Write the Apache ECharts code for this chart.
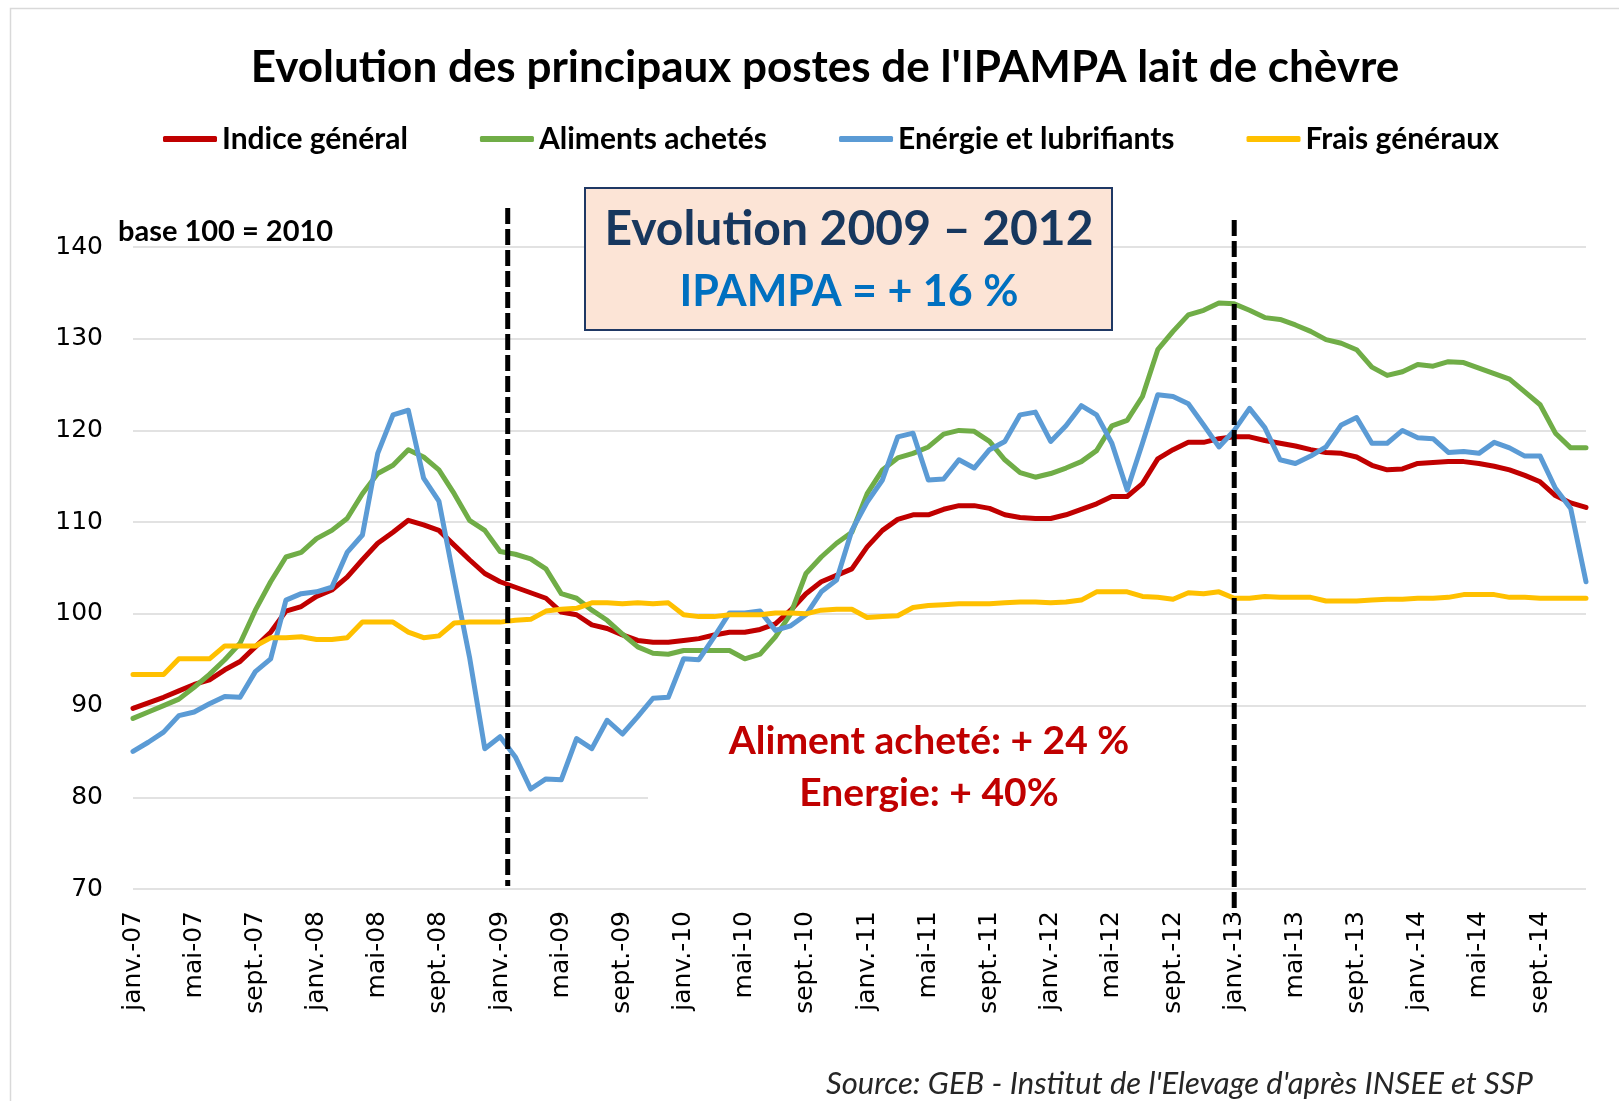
<!DOCTYPE html>
<html>
<head>
<meta charset="utf-8">
<script src="https://cdn.jsdelivr.net/npm/echarts@6/dist/echarts.min.js"></script>
<style>
  html, body { margin: 0; padding: 0; background: #fff; }
  #main { width: 1619px; height: 1101px; }
</style>
</head>
<body>
<div id="main"></div>
<script>
// mois janv.-07 .. déc.-14
const monthNames = ["janv.", "févr.", "mars", "avr.", "mai", "juin", "juil.", "août", "sept.", "oct.", "nov.", "déc."];
const years = ["07", "08", "09", "10", "11", "12", "13", "14"];
const months = [];
years.forEach(function (y) {
  monthNames.forEach(function (m) {
    months.push(m + "-" + y);
  });
});

const indiceGeneral = [
  89.7, 90.3, 90.9, 91.6, 92.3, 92.8, 93.9, 94.8, 96.4, 98.0, 100.3, 100.8, 101.9, 102.6, 104.0, 105.9, 107.7, 108.9, 110.2, 109.7, 109.1, 107.5, 105.9, 104.4, 103.5, 102.9,
  102.3, 101.7, 100.2, 99.9, 98.8, 98.4, 97.7, 97.1, 96.9, 96.9, 97.1, 97.3, 97.7, 98.0, 98.0, 98.3, 98.9, 100.4, 102.2, 103.5, 104.2, 104.9, 107.3, 109.1, 110.3,
  110.8, 110.8, 111.4, 111.8, 111.8, 111.5, 110.8, 110.5, 110.4, 110.4, 110.8, 111.4, 112.0, 112.8, 112.8, 114.2, 116.9, 117.9, 118.7, 118.7, 119.1, 119.3, 119.3, 118.9,
  118.6, 118.3, 117.9, 117.6, 117.5, 117.1, 116.2, 115.7, 115.8, 116.4, 116.5, 116.6, 116.6, 116.4, 116.1, 115.7, 115.1, 114.4, 112.9, 112.1, 111.6
];
const alimentsAchetes = [
  88.6, 89.3, 90.0, 90.7, 92.0, 93.4, 95.0, 96.8, 100.4, 103.5, 106.2, 106.7, 108.2, 109.1, 110.4, 113.1, 115.3, 116.2, 117.9, 117.1, 115.7, 113.1, 110.2, 109.1, 106.8, 106.5,
  106.0, 104.9, 102.2, 101.7, 100.4, 99.3, 97.8, 96.4, 95.7, 95.6, 96.0, 96.0, 96.0, 96.0, 95.1, 95.6, 97.5, 100.0, 104.4, 106.2, 107.7, 108.9, 113.1, 115.7, 117.0,
  117.5, 118.2, 119.6, 120.0, 119.9, 118.8, 116.8, 115.4, 114.9, 115.3, 115.9, 116.6, 117.8, 120.5, 121.1, 123.7, 128.8, 130.8, 132.6, 133.1, 133.9, 133.8, 133.1, 132.3,
  132.1, 131.5, 130.8, 129.9, 129.5, 128.8, 126.9, 126.0, 126.4, 127.2, 127.0, 127.5, 127.4, 126.8, 126.2, 125.6, 124.2, 122.8, 119.7, 118.1, 118.1
];
const energie = [
  85.0, 86.0, 87.1, 88.9, 89.3, 90.2, 91.0, 90.9, 93.7, 95.1, 101.5, 102.2, 102.4, 102.9, 106.7, 108.6, 117.5, 121.7, 122.2, 114.8, 112.3, 103.7, 95.3, 85.3, 86.6, 84.4,
  80.9, 82.0, 81.9, 86.4, 85.3, 88.4, 86.9, 88.8, 90.8, 90.9, 95.1, 95.0, 97.5, 100.1, 100.1, 100.3, 98.2, 98.7, 99.9, 102.4, 103.7, 109.1, 112.2, 114.6, 119.3,
  119.7, 114.6, 114.7, 116.8, 115.9, 117.9, 118.8, 121.7, 122.0, 118.8, 120.5, 122.7, 121.7, 118.6, 113.5, 118.6, 123.9, 123.7, 122.9, 120.6, 118.2, 120.0, 122.4, 120.3,
  116.8, 116.4, 117.2, 118.2, 120.6, 121.4, 118.6, 118.6, 120.0, 119.2, 119.1, 117.6, 117.7, 117.5, 118.7, 118.1, 117.2, 117.2, 113.7, 111.5, 103.5
];
const fraisGeneraux = [
  93.4, 93.4, 93.4, 95.1, 95.1, 95.1, 96.5, 96.5, 96.5, 97.4, 97.4, 97.5, 97.2, 97.2, 97.4, 99.1, 99.1, 99.1, 98.0, 97.4, 97.6, 99.0, 99.1, 99.1, 99.1, 99.3,
  99.4, 100.3, 100.5, 100.6, 101.2, 101.2, 101.1, 101.2, 101.1, 101.2, 99.9, 99.7, 99.7, 99.9, 99.9, 99.9, 100.1, 100.1, 100.0, 100.4, 100.5, 100.5, 99.6, 99.7, 99.8,
  100.7, 100.9, 101.0, 101.1, 101.1, 101.1, 101.2, 101.3, 101.3, 101.2, 101.3, 101.5, 102.4, 102.4, 102.4, 101.9, 101.8, 101.6, 102.3, 102.2, 102.4, 101.7, 101.7, 101.9,
  101.8, 101.8, 101.8, 101.4, 101.4, 101.4, 101.5, 101.6, 101.6, 101.7, 101.7, 101.8, 102.1, 102.1, 102.1, 101.8, 101.8, 101.7, 101.7, 101.7, 101.7
];

// bornes de la période commentée (en index de mois)
const periodStart = 24.5;
const periodEnd = 72;

const seriesNames = ["Indice général", "Aliments achetés", "Enérgie et lubrifiants", "Frais généraux"];
const seriesColors = ["#C00000", "#70AD47", "#5B9BD5", "#FFC000"];
const seriesData = [indiceGeneral, alimentsAchetes, energie, fraisGeneraux];

let chartDom = document.getElementById("main");
let myChart = echarts.init(chartDom);

let option = {
  animation: false,
  backgroundColor: "#fff",
  grid: {
    left: 133,
    right: 33,
    top: 247,
    bottom: 212,
  },
  legend: {
    data: seriesNames,
    left: 158,
    top: 119,
    itemGap: 72,
    itemWidth: 54,
    itemHeight: 6,
    icon: "roundRect",
    textStyle: {
      fontFamily: "Lato",
      fontWeight: "bold",
      fontSize: 30,
      color: "#000",
    },
  },
  xAxis: {
    type: "category",
    boundaryGap: false,
    data: months,
    axisLine: { show: false },
    axisTick: { show: false },
    axisLabel: {
      interval: 3,
      rotate: 90,
      margin: 22,
      fontFamily: "DejaVu Sans",
      fontSize: 25,
      color: "#000",
    },
    splitLine: { show: false },
  },
  yAxis: {
    type: "value",
    min: 70,
    max: 140,
    interval: 10,
    axisLine: { show: false },
    axisTick: { show: false },
    axisLabel: {
      margin: 30,
      fontFamily: "DejaVu Sans",
      fontSize: 25,
      color: "#000",
    },
    splitLine: {
      lineStyle: { color: "#D9D9D9", width: 1.5 },
    },
  },
  series: seriesNames.map(function (name, i) {
    return {
      name: name,
      type: "line",
      data: seriesData[i],
      symbol: "none",
      color: seriesColors[i],
      lineStyle: { width: 5, color: seriesColors[i], cap: "round", join: "round" },
    };
  }),
};
myChart.setOption(option);

// lignes verticales pointillées placées par l'axe
function xAt(idx) {
  let a = myChart.convertToPixel({ xAxisIndex: 0 }, Math.floor(idx));
  let b = myChart.convertToPixel({ xAxisIndex: 0 }, Math.ceil(idx));
  return a + (b - a) * (idx - Math.floor(idx));
}
const x1 = xAt(periodStart);
const x2 = xAt(periodEnd);

myChart.setOption({
  graphic: [
    {
      type: "rect",
      z: 0,
      silent: true,
      shape: { x: 10.5, y: 8.5, width: 1700, height: 1200 },
      style: { fill: "none", stroke: "#D9D9D9", lineWidth: 1.5 },
    },
    {
      type: "text",
      z: 10,
      style: {
        text: "Evolution des principaux postes de l'IPAMPA lait de chèvre",
        x: 825, y: 68,
        textAlign: "center", textVerticalAlign: "middle",
        font: "bold 44px Lato", fill: "#000",
      },
    },
    {
      type: "text",
      z: 10,
      style: {
        text: "base 100 = 2010",
        x: 118, y: 232,
        textAlign: "left", textVerticalAlign: "middle",
        font: "bold 29px Lato", fill: "#000",
      },
    },
    {
      type: "rect",
      z: 10,
      shape: { x: 585, y: 188, width: 527, height: 142 },
      style: { fill: "#FCE4D6", stroke: "#1F3864", lineWidth: 2 },
    },
    {
      type: "text",
      z: 11,
      style: {
        text: "Evolution 2009 – 2012",
        x: 849, y: 230,
        textAlign: "center", textVerticalAlign: "middle",
        font: "bold 48px Lato", fill: "#17375E",
      },
    },
    {
      type: "text",
      z: 11,
      style: {
        text: "IPAMPA = + 16 %",
        x: 849, y: 292,
        textAlign: "center", textVerticalAlign: "middle",
        font: "bold 43px Lato", fill: "#0070C0",
      },
    },
    {
      type: "rect",
      z: 1,
      silent: true,
      shape: { x: 648, y: 718, width: 1000, height: 100 },
      style: { fill: "#fff" },
    },
    {
      type: "text",
      z: 11,
      style: {
        text: "Aliment acheté: + 24 %",
        x: 929, y: 741,
        textAlign: "center", textVerticalAlign: "middle",
        font: "bold 39px Lato", fill: "#C00000",
      },
    },
    {
      type: "text",
      z: 11,
      style: {
        text: "Energie: + 40%",
        x: 929, y: 793,
        textAlign: "center", textVerticalAlign: "middle",
        font: "bold 39px Lato", fill: "#C00000",
      },
    },
    {
      type: "line",
      z: 12,
      shape: { x1: x1, y1: 208, x2: x1, y2: 886 },
      style: { stroke: "#000", lineWidth: 5, lineDash: [16, 5] },
    },
    {
      type: "line",
      z: 12,
      shape: { x1: x2, y1: 220, x2: x2, y2: 914 },
      style: { stroke: "#000", lineWidth: 5, lineDash: [16, 5] },
    },
    {
      type: "text",
      z: 10,
      style: {
        text: "Source: GEB - Institut de l'Elevage d'après INSEE et SSP",
        x: 1533, y: 1084,
        textAlign: "right", textVerticalAlign: "middle",
        font: "italic 31px Lato", fill: "#262626",
      },
    },
  ],
});
</script>
</body>
</html>
